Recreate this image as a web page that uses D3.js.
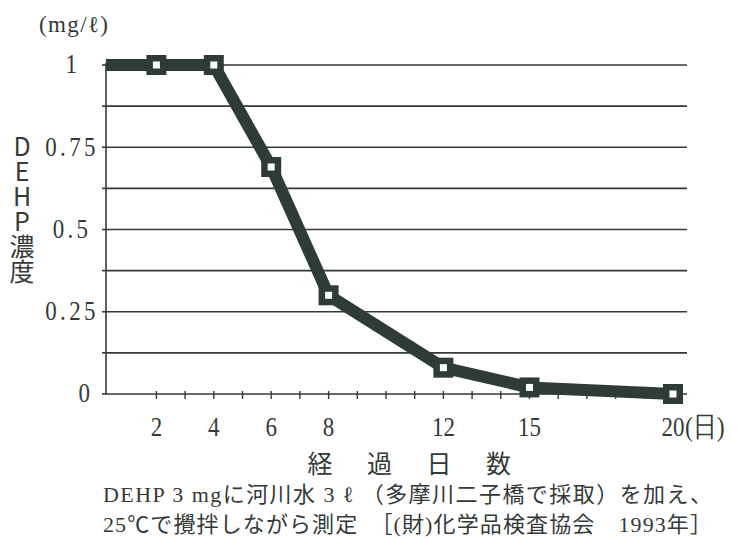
<!DOCTYPE html>
<html><head><meta charset="utf-8">
<script src="https://cdn.jsdelivr.net/npm/d3@7"></script>
<style>body{margin:0;background:#fff}</style>
</head><body>
<svg id="c" width="738" height="538"></svg>
<script>
// ---- data ----
const days   = [0, 2, 4, 6, 8, 12, 15, 20];
const values = [1, 1, 1, 0.69, 0.30, 0.08, 0.02, 0];
const markerDays = [2, 4, 6, 8, 12, 15, 20];
const xTickLabels = [2, 4, 6, 8, 12, 15, 20];
const xMinorTicks = d3.range(2, 21);
const yTickLabels = [0, 0.25, 0.5, 0.75, 1];
const yGridValues = d3.range(0, 1.0001, 0.125);
const yTitle = "DEHP濃度";
const xTitle = ["経", "過", "日", "数"];
const unitLabel = "(mg/ℓ)";
const xUnit = "(日)";
const caption = [
  "DEHP 3 mgに河川水 3 ℓ （多摩川二子橋で採取）を加え、",
  "25℃で攪拌しながら測定　［(財)化学品検査協会　1993年］"
];

const svg = d3.select("#c");
const ink = "#333a38";
const lineCol = "#2f3b39";
const serif = "'Liberation Serif','DejaVu Serif',serif";
const sans = "'Noto Sans CJK JP','Noto Sans',sans-serif";

const pLeft = 106, pRight = 687, pTop = 65, pBottom = 394;
const x = d3.scaleLinear().domain([0, 20]).range([99, 673]);
const y = d3.scaleLinear().domain([0, 1]).range([pBottom, pTop]);

// gridlines
svg.append("g").selectAll("line").data(yGridValues.filter(v => v > 0)).join("line")
  .attr("x1", pLeft).attr("x2", pRight)
  .attr("y1", d => y(d)).attr("y2", d => y(d))
  .attr("stroke", ink).attr("stroke-width", 1.6);

// y tick marks
svg.append("g").selectAll("line").data(yGridValues).join("line")
  .attr("x1", pLeft - 4).attr("x2", pLeft)
  .attr("y1", d => y(d)).attr("y2", d => y(d))
  .attr("stroke", ink).attr("stroke-width", 1.6);

// axes
svg.append("line").attr("x1", pLeft).attr("x2", pLeft).attr("y1", pTop - 2).attr("y2", pBottom)
  .attr("stroke", ink).attr("stroke-width", 1.6);
svg.append("line").attr("x1", pLeft).attr("x2", pRight).attr("y1", pBottom).attr("y2", pBottom)
  .attr("stroke", ink).attr("stroke-width", 1.6);

// x minor ticks
svg.append("g").selectAll("line").data(xMinorTicks).join("line")
  .attr("x1", d => x(d)).attr("x2", d => x(d))
  .attr("y1", pBottom - 3).attr("y2", pBottom + 5)
  .attr("stroke", ink).attr("stroke-width", 1.4);

// y tick labels
svg.append("g").selectAll("text").data(yTickLabels).join("text")
  .attr("transform", d => `translate(${d === 0 ? 86 : (d === 1 ? 73 : 72)},${y(d) - 1}) scale(0.82,1)`)
  .attr("text-anchor", "middle").attr("dominant-baseline", "central")
  .attr("font-family", serif).attr("font-size", 28).attr("letter-spacing", 4)
  .attr("fill", ink)
  .text(d => String(d));

// x tick labels
svg.append("g").selectAll("text").data(xTickLabels).join("text")
  .attr("transform", d => `translate(${x(d)},436) scale(0.82,1)`)
  .attr("text-anchor", "middle")
  .attr("font-family", serif).attr("font-size", 28)
  .attr("fill", ink)
  .text(d => String(d));
svg.append("text")
  .attr("transform", `translate(${x(20) + 12},436) scale(0.85,1)`)
  .attr("font-family", serif).attr("font-size", 28).attr("fill", ink)
  .text(xUnit);

// unit label
svg.append("text").attr("x", 39).attr("y", 32)
  .attr("font-family", serif).attr("font-size", 23).attr("fill", ink)
  .attr("textLength", 69).attr("lengthAdjust", "spacing")
  .text(unitLabel);

// y title (vertical writing mode, single run)
svg.append("text")
  .attr("x", 22).attr("y", 134)
  .style("writing-mode", "vertical-rl")
  .style("text-orientation", "upright")
  .attr("font-family", sans).attr("font-size", 25).attr("fill", ink)
  .text(yTitle);

// x title
svg.append("g").selectAll("text").data(xTitle).join("text")
  .attr("x", (d, i) => 320 + i * 59.5).attr("y", 462)
  .attr("text-anchor", "middle").attr("dominant-baseline", "central")
  .attr("font-family", sans).attr("font-size", 25).attr("fill", ink)
  .text(d => d);

// caption
svg.append("g").selectAll("text").data(caption).join("text")
  .attr("x", 103).attr("y", (d, i) => 502 + i * 30)
  .attr("font-family", "'Liberation Serif','Noto Sans CJK JP',serif")
  .attr("font-size", 22).attr("fill", ink)
  .attr("textLength", 609).attr("lengthAdjust", "spacing")
  .text(d => d);

// clip
svg.append("clipPath").attr("id", "plot").append("rect")
  .attr("x", pLeft).attr("y", 0).attr("width", 738 - pLeft).attr("height", 538);

const pts = days.map((d, i) => [d, values[i]]);
svg.append("path").datum(pts)
  .attr("clip-path", "url(#plot)")
  .attr("d", d3.line().x(d => x(d[0])).y(d => y(d[1])))
  .attr("fill", "none").attr("stroke", lineCol).attr("stroke-width", 12)
  .attr("stroke-linejoin", "miter");

const mk = markerDays.map(d => [d, values[days.indexOf(d)]]);
const g = svg.append("g");
g.selectAll("rect.o").data(mk).join("rect").attr("class", "o")
  .attr("x", d => x(d[0]) - 10).attr("y", d => y(d[1]) - 10)
  .attr("width", 20).attr("height", 20).attr("fill", lineCol);
g.selectAll("rect.i").data(mk).join("rect").attr("class", "i")
  .attr("x", d => x(d[0]) - 3.5).attr("y", d => y(d[1]) - 3.5)
  .attr("width", 7).attr("height", 7).attr("fill", "#fff");
</script>
</body></html>
